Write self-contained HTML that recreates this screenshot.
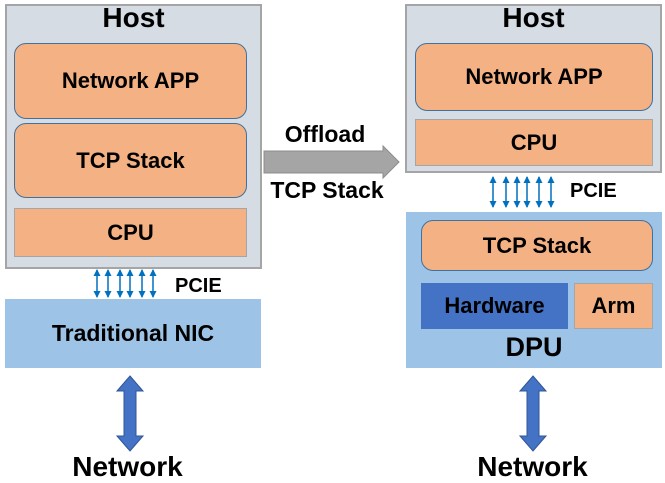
<!DOCTYPE html>
<html><head><meta charset="utf-8"><style>
body{margin:0;width:665px;height:483px;background:#fff;position:relative;overflow:hidden;font-family:"Liberation Sans",sans-serif;font-weight:bold;color:#000}
.b{position:absolute;box-sizing:border-box;display:flex;align-items:center;justify-content:center}
.host{background:#d6dce4;border:2px solid #a5a5a5}
.r{background:#f4b183;border:1.5px solid #41719c;border-radius:12px;font-size:22px}
.s{background:#f4b183;border:1.5px solid #a5a5a5;font-size:22px}
.t{position:absolute;white-space:nowrap}
</style></head><body>
<div class="b host" style="left:5px;top:4px;width:257px;height:265px"></div>
<div class="t" style="left:5px;width:257px;text-align:center;top:2px;font-size:28px">Host</div>
<div class="b r" style="left:14px;top:43px;width:233px;height:76px">Network APP</div>
<div class="b r" style="left:14px;top:123px;width:233px;height:75px">TCP Stack</div>
<div class="b s" style="left:14px;top:208px;width:233px;height:49px">CPU</div>
<div class="b" style="left:5px;top:299px;width:256px;height:69px;background:#9dc3e6;font-size:23px">Traditional NIC</div>
<div class="t" style="left:175px;top:275px;font-size:20px">PCIE</div>
<div class="t" style="left:55px;width:145px;text-align:center;top:451px;font-size:28px">Network</div>

<div class="t" style="left:265px;width:120px;text-align:center;top:121px;font-size:23px">Offload</div>
<div class="t" style="left:262px;width:130px;text-align:center;top:177px;font-size:23px">TCP Stack</div>

<div class="b host" style="left:405px;top:4px;width:257px;height:169px"></div>
<div class="t" style="left:405px;width:257px;text-align:center;top:2px;font-size:28px">Host</div>
<div class="b r" style="left:415px;top:43px;width:238px;height:68px">Network APP</div>
<div class="b s" style="left:415px;top:119px;width:238px;height:47px">CPU</div>
<div class="t" style="left:570px;top:180px;font-size:20px">PCIE</div>
<div class="b" style="left:406px;top:212px;width:256px;height:156px;background:#9dc3e6"></div>
<div class="b r" style="left:421px;top:220px;width:232px;height:51px">TCP Stack</div>
<div class="b" style="left:421px;top:283px;width:147px;height:46px;background:#4472c4;font-size:22px">Hardware</div>
<div class="b s" style="left:574px;top:283px;width:79px;height:46px">Arm</div>
<div class="t" style="left:406px;width:256px;text-align:center;top:332px;font-size:27px">DPU</div>
<div class="t" style="left:460px;width:145px;text-align:center;top:451px;font-size:28px">Network</div>

<svg style="position:absolute;left:0;top:0" width="665" height="483">
<defs><marker id="a" markerWidth="7" markerHeight="7" refX="6" refY="3.5" orient="auto-start-reverse" markerUnits="userSpaceOnUse"><path d="M0,0L7,3.5L0,7z" fill="#0070c0"/></marker></defs>
<g stroke="#0070c0" stroke-width="1.5" marker-start="url(#a)" marker-end="url(#a)">
<line x1="97" y1="270" x2="97" y2="297"/><line x1="108" y1="270" x2="108" y2="297"/><line x1="120" y1="270" x2="120" y2="297"/><line x1="130" y1="270" x2="130" y2="297"/><line x1="142" y1="270" x2="142" y2="297"/><line x1="153" y1="270" x2="153" y2="297"/>
<line x1="493" y1="177" x2="493" y2="207"/><line x1="506" y1="177" x2="506" y2="207"/><line x1="517" y1="177" x2="517" y2="207"/><line x1="527" y1="177" x2="527" y2="207"/><line x1="539" y1="177" x2="539" y2="207"/><line x1="551" y1="177" x2="551" y2="207"/>
</g>
<path d="M264,151H383V146L399,162L383,178V173H264Z" fill="#a5a5a5" stroke="#8c8c8c" stroke-width="1"/>
<path d="M130,376L143,391H136V436H143L130,451L117,436H124V391H117Z" fill="#4472c4" stroke="#2f5597" stroke-width="1"/>
<path d="M533,376L546,391H539V436H546L533,451L520,436H527V391H520Z" fill="#4472c4" stroke="#2f5597" stroke-width="1"/>
</svg>
</body></html>
